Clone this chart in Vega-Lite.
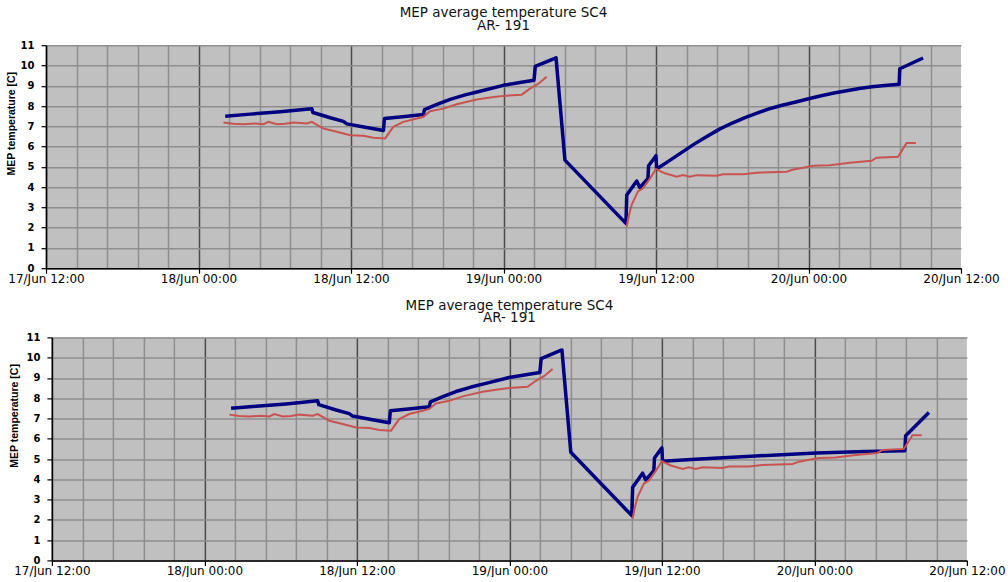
{
  "$schema": "https://vega.github.io/schema/vega-lite/v6.json",
  "background": "white",
  "padding": {"left": 4, "top": 6.2, "right": 0, "bottom": 0},
  "spacing": 14.2,
  "center": true,
  "config": {
    "font": "DejaVu Sans",
    "view": {"fill": "#c0c0c0", "stroke": null},
    "title": {
      "font": "DejaVu Sans", "fontSize": 13.5, "fontWeight": "normal", "color": "#111111",
      "lineHeight": 12.5, "anchor": "middle", "frame": "group", "offset": 7.8
    },
    "axis": {"gridWidth": 1.5, "domainWidth": 1.5, "domainColor": "#000000", "tickColor": "#000000", "tickWidth": 1.2}
  },
  "datasets": {
    "probe": [
      {"time": "2011-06-18T01:58", "temp": 7.19, "segment": 1},
      {"time": "2011-06-18T02:44", "temp": 7.12, "segment": 1},
      {"time": "2011-06-18T03:32", "temp": 7.10, "segment": 1},
      {"time": "2011-06-18T04:28", "temp": 7.14, "segment": 1},
      {"time": "2011-06-18T05:07", "temp": 7.10, "segment": 1},
      {"time": "2011-06-18T05:30", "temp": 7.22, "segment": 1},
      {"time": "2011-06-18T06:10", "temp": 7.10, "segment": 1},
      {"time": "2011-06-18T06:49", "temp": 7.12, "segment": 1},
      {"time": "2011-06-18T07:28", "temp": 7.19, "segment": 1},
      {"time": "2011-06-18T08:32", "temp": 7.14, "segment": 1},
      {"time": "2011-06-18T08:55", "temp": 7.22, "segment": 1},
      {"time": "2011-06-18T09:50", "temp": 6.89, "segment": 1},
      {"time": "2011-06-18T10:53", "temp": 6.73, "segment": 1},
      {"time": "2011-06-18T11:56", "temp": 6.56, "segment": 1},
      {"time": "2011-06-18T12:59", "temp": 6.53, "segment": 1},
      {"time": "2011-06-18T13:46", "temp": 6.43, "segment": 1},
      {"time": "2011-06-18T14:41", "temp": 6.40, "segment": 1},
      {"time": "2011-06-18T15:20", "temp": 6.97, "segment": 1},
      {"time": "2011-06-18T16:07", "temp": 7.22, "segment": 1},
      {"time": "2011-06-18T17:11", "temp": 7.38, "segment": 1},
      {"time": "2011-06-18T17:42", "temp": 7.47, "segment": 1},
      {"time": "2011-06-18T18:13", "temp": 7.74, "segment": 1},
      {"time": "2011-06-18T19:16", "temp": 7.87, "segment": 1},
      {"time": "2011-06-18T20:19", "temp": 8.09, "segment": 1},
      {"time": "2011-06-18T21:54", "temp": 8.32, "segment": 1},
      {"time": "2011-06-18T22:57", "temp": 8.42, "segment": 1},
      {"time": "2011-06-18T23:59", "temp": 8.50, "segment": 1},
      {"time": "2011-06-19T01:26", "temp": 8.56, "segment": 1},
      {"time": "2011-06-19T02:05", "temp": 8.86, "segment": 1},
      {"time": "2011-06-19T02:45", "temp": 9.10, "segment": 1},
      {"time": "2011-06-19T03:24", "temp": 9.44, "segment": 1},
      {"time": "2011-06-19T09:42", "temp": 2.05, "segment": 2},
      {"time": "2011-06-19T09:52", "temp": 2.60, "segment": 2},
      {"time": "2011-06-19T10:05", "temp": 3.12, "segment": 2},
      {"time": "2011-06-19T10:35", "temp": 3.79, "segment": 2},
      {"time": "2011-06-19T10:59", "temp": 3.94, "segment": 2},
      {"time": "2011-06-19T11:32", "temp": 4.43, "segment": 2},
      {"time": "2011-06-19T12:00", "temp": 4.89, "segment": 2},
      {"time": "2011-06-19T12:42", "temp": 4.68, "segment": 2},
      {"time": "2011-06-19T13:38", "temp": 4.51, "segment": 2},
      {"time": "2011-06-19T14:07", "temp": 4.59, "segment": 2},
      {"time": "2011-06-19T14:40", "temp": 4.51, "segment": 2},
      {"time": "2011-06-19T15:12", "temp": 4.59, "segment": 2},
      {"time": "2011-06-19T16:46", "temp": 4.56, "segment": 2},
      {"time": "2011-06-19T17:17", "temp": 4.63, "segment": 2},
      {"time": "2011-06-19T18:52", "temp": 4.63, "segment": 2},
      {"time": "2011-06-19T19:55", "temp": 4.71, "segment": 2},
      {"time": "2011-06-19T22:17", "temp": 4.76, "segment": 2},
      {"time": "2011-06-19T22:48", "temp": 4.87, "segment": 2},
      {"time": "2011-06-19T23:35", "temp": 4.96, "segment": 2},
      {"time": "2011-06-20T00:22", "temp": 5.05, "segment": 2},
      {"time": "2011-06-20T01:41", "temp": 5.08, "segment": 2},
      {"time": "2011-06-20T03:15", "temp": 5.20, "segment": 2},
      {"time": "2011-06-20T04:58", "temp": 5.30, "segment": 2},
      {"time": "2011-06-20T05:21", "temp": 5.45, "segment": 2},
      {"time": "2011-06-20T07:03", "temp": 5.50, "segment": 2},
      {"time": "2011-06-20T07:43", "temp": 6.17, "segment": 2},
      {"time": "2011-06-20T08:27", "temp": 6.17, "segment": 2}
    ],
    "modelA": [
      {"time": "2011-06-18T02:06", "temp": 7.50},
      {"time": "2011-06-18T04:04", "temp": 7.60},
      {"time": "2011-06-18T06:26", "temp": 7.72},
      {"time": "2011-06-18T08:55", "temp": 7.87},
      {"time": "2011-06-18T09:00", "temp": 7.68},
      {"time": "2011-06-18T10:22", "temp": 7.42},
      {"time": "2011-06-18T11:24", "temp": 7.24},
      {"time": "2011-06-18T11:40", "temp": 7.12},
      {"time": "2011-06-18T13:07", "temp": 6.95},
      {"time": "2011-06-18T14:33", "temp": 6.79},
      {"time": "2011-06-18T14:38", "temp": 7.38},
      {"time": "2011-06-18T16:15", "temp": 7.48},
      {"time": "2011-06-18T17:42", "temp": 7.58},
      {"time": "2011-06-18T17:47", "temp": 7.82},
      {"time": "2011-06-18T18:46", "temp": 8.08},
      {"time": "2011-06-18T19:48", "temp": 8.33},
      {"time": "2011-06-18T20:59", "temp": 8.55},
      {"time": "2011-06-18T22:09", "temp": 8.73},
      {"time": "2011-06-18T23:59", "temp": 9.02},
      {"time": "2011-06-19T01:18", "temp": 9.16},
      {"time": "2011-06-19T02:24", "temp": 9.27},
      {"time": "2011-06-19T02:30", "temp": 9.95},
      {"time": "2011-06-19T04:08", "temp": 10.38},
      {"time": "2011-06-19T04:50", "temp": 5.33},
      {"time": "2011-06-19T09:38", "temp": 2.21},
      {"time": "2011-06-19T09:42", "temp": 3.61},
      {"time": "2011-06-19T10:29", "temp": 4.30},
      {"time": "2011-06-19T10:44", "temp": 3.97},
      {"time": "2011-06-19T11:22", "temp": 4.43},
      {"time": "2011-06-19T11:25", "temp": 5.05},
      {"time": "2011-06-19T12:00", "temp": 5.55},
      {"time": "2011-06-19T12:03", "temp": 4.89},
      {"time": "2011-06-19T13:00", "temp": 5.28},
      {"time": "2011-06-19T14:00", "temp": 5.70},
      {"time": "2011-06-19T15:00", "temp": 6.12},
      {"time": "2011-06-19T16:00", "temp": 6.50},
      {"time": "2011-06-19T17:00", "temp": 6.86},
      {"time": "2011-06-19T18:00", "temp": 7.16},
      {"time": "2011-06-19T19:00", "temp": 7.43},
      {"time": "2011-06-19T20:00", "temp": 7.66},
      {"time": "2011-06-19T21:00", "temp": 7.88},
      {"time": "2011-06-19T22:00", "temp": 8.05},
      {"time": "2011-06-19T23:00", "temp": 8.20},
      {"time": "2011-06-20T00:00", "temp": 8.36},
      {"time": "2011-06-20T01:00", "temp": 8.51},
      {"time": "2011-06-20T02:00", "temp": 8.64},
      {"time": "2011-06-20T03:00", "temp": 8.75},
      {"time": "2011-06-20T04:00", "temp": 8.86},
      {"time": "2011-06-20T05:00", "temp": 8.95},
      {"time": "2011-06-20T06:00", "temp": 9.01},
      {"time": "2011-06-20T07:08", "temp": 9.07},
      {"time": "2011-06-20T07:11", "temp": 9.84},
      {"time": "2011-06-20T09:01", "temp": 10.37}
    ],
    "modelB": [
      {"time": "2011-06-18T02:06", "temp": 7.50},
      {"time": "2011-06-18T04:04", "temp": 7.60},
      {"time": "2011-06-18T06:26", "temp": 7.72},
      {"time": "2011-06-18T08:55", "temp": 7.87},
      {"time": "2011-06-18T09:00", "temp": 7.68},
      {"time": "2011-06-18T10:22", "temp": 7.42},
      {"time": "2011-06-18T11:24", "temp": 7.24},
      {"time": "2011-06-18T11:40", "temp": 7.12},
      {"time": "2011-06-18T13:07", "temp": 6.95},
      {"time": "2011-06-18T14:33", "temp": 6.79},
      {"time": "2011-06-18T14:38", "temp": 7.38},
      {"time": "2011-06-18T16:15", "temp": 7.48},
      {"time": "2011-06-18T17:42", "temp": 7.58},
      {"time": "2011-06-18T17:47", "temp": 7.82},
      {"time": "2011-06-18T18:46", "temp": 8.08},
      {"time": "2011-06-18T19:48", "temp": 8.33},
      {"time": "2011-06-18T20:59", "temp": 8.55},
      {"time": "2011-06-18T22:09", "temp": 8.73},
      {"time": "2011-06-18T23:59", "temp": 9.02},
      {"time": "2011-06-19T01:18", "temp": 9.16},
      {"time": "2011-06-19T02:24", "temp": 9.27},
      {"time": "2011-06-19T02:30", "temp": 9.95},
      {"time": "2011-06-19T04:08", "temp": 10.38},
      {"time": "2011-06-19T04:50", "temp": 5.33},
      {"time": "2011-06-19T09:38", "temp": 2.21},
      {"time": "2011-06-19T09:42", "temp": 3.61},
      {"time": "2011-06-19T10:29", "temp": 4.30},
      {"time": "2011-06-19T10:44", "temp": 3.97},
      {"time": "2011-06-19T11:22", "temp": 4.43},
      {"time": "2011-06-19T11:25", "temp": 5.05},
      {"time": "2011-06-19T12:00", "temp": 5.55},
      {"time": "2011-06-19T12:03", "temp": 4.89},
      {"time": "2011-06-19T14:59", "temp": 5.00},
      {"time": "2011-06-19T19:24", "temp": 5.15},
      {"time": "2011-06-20T00:10", "temp": 5.30},
      {"time": "2011-06-20T04:02", "temp": 5.37},
      {"time": "2011-06-20T07:07", "temp": 5.41},
      {"time": "2011-06-20T07:11", "temp": 6.15},
      {"time": "2011-06-20T09:01", "temp": 7.30}
    ]
  },
  "vconcat": [
    {
      "title": {"text": ["MEP average temperature SC4", "AR- 191"]},
      "width": 915,
      "height": 223,
      "encoding": {
        "x": {
          "field": "time", "type": "temporal",
          "scale": {"domain": [{"year": 2011, "month": 6, "date": 17, "hours": 12}, {"year": 2011, "month": 6, "date": 20, "hours": 12}]},
          "axis": {
            "title": null,
            "values": [
              {"year": 2011, "month": 6, "date": 17, "hours": 12, "minutes": 0},
              {"year": 2011, "month": 6, "date": 17, "hours": 14, "minutes": 24},
              {"year": 2011, "month": 6, "date": 17, "hours": 16, "minutes": 48},
              {"year": 2011, "month": 6, "date": 17, "hours": 19, "minutes": 12},
              {"year": 2011, "month": 6, "date": 17, "hours": 21, "minutes": 36},
              {"year": 2011, "month": 6, "date": 18, "hours": 0, "minutes": 0},
              {"year": 2011, "month": 6, "date": 18, "hours": 2, "minutes": 24},
              {"year": 2011, "month": 6, "date": 18, "hours": 4, "minutes": 48},
              {"year": 2011, "month": 6, "date": 18, "hours": 7, "minutes": 12},
              {"year": 2011, "month": 6, "date": 18, "hours": 9, "minutes": 36},
              {"year": 2011, "month": 6, "date": 18, "hours": 12, "minutes": 0},
              {"year": 2011, "month": 6, "date": 18, "hours": 14, "minutes": 24},
              {"year": 2011, "month": 6, "date": 18, "hours": 16, "minutes": 48},
              {"year": 2011, "month": 6, "date": 18, "hours": 19, "minutes": 12},
              {"year": 2011, "month": 6, "date": 18, "hours": 21, "minutes": 36},
              {"year": 2011, "month": 6, "date": 19, "hours": 0, "minutes": 0},
              {"year": 2011, "month": 6, "date": 19, "hours": 2, "minutes": 24},
              {"year": 2011, "month": 6, "date": 19, "hours": 4, "minutes": 48},
              {"year": 2011, "month": 6, "date": 19, "hours": 7, "minutes": 12},
              {"year": 2011, "month": 6, "date": 19, "hours": 9, "minutes": 36},
              {"year": 2011, "month": 6, "date": 19, "hours": 12, "minutes": 0},
              {"year": 2011, "month": 6, "date": 19, "hours": 14, "minutes": 24},
              {"year": 2011, "month": 6, "date": 19, "hours": 16, "minutes": 48},
              {"year": 2011, "month": 6, "date": 19, "hours": 19, "minutes": 12},
              {"year": 2011, "month": 6, "date": 19, "hours": 21, "minutes": 36},
              {"year": 2011, "month": 6, "date": 20, "hours": 0, "minutes": 0},
              {"year": 2011, "month": 6, "date": 20, "hours": 2, "minutes": 24},
              {"year": 2011, "month": 6, "date": 20, "hours": 4, "minutes": 48},
              {"year": 2011, "month": 6, "date": 20, "hours": 7, "minutes": 12},
              {"year": 2011, "month": 6, "date": 20, "hours": 9, "minutes": 36},
              {"year": 2011, "month": 6, "date": 20, "hours": 12, "minutes": 0}
            ],
            "labelExpr": "(hours(datum.value) % 12 === 0 && minutes(datum.value) === 0) ? timeFormat(datum.value, '%d/%b %H:%M') : ''",
            "labelFont": "DejaVu Sans", "labelFontSize": 12, "labelColor": "#000000",
            "labelFlush": false, "labelOverlap": false, "labelPadding": 0,
            "tickSize": 5,
            "tickOpacity": {"condition": {"test": "hours(datum.value) % 12 === 0 && minutes(datum.value) === 0", "value": 1}, "value": 0},
            "grid": true,
            "gridColor": {"condition": {"test": "hours(datum.value) % 12 === 0 && minutes(datum.value) === 0", "value": "#4a4a4a"}, "value": "#8e8e8e"},
            "gridOpacity": {"condition": {"test": "datum.value > datetime(2011, 5, 20, 11)", "value": 0}, "value": 1}
          }
        }
      },
      "layer": [
        {
          "data": {"name": "modelA"},
          "mark": {"type": "line", "color": "#000080", "strokeWidth": 3.5, "strokeJoin": "round"},
          "encoding": {
            "y": {
              "field": "temp", "type": "quantitative",
              "scale": {"domain": [0, 11], "nice": false},
              "axis": {
                "title": "MEP temperature [C]",
                "values": [0, 1, 2, 3, 4, 5, 6, 7, 8, 9, 10, 11],
                "labelFont": "DejaVu Sans", "labelFontWeight": "bold", "labelFontSize": 10, "labelColor": "#000000",
                "labelPadding": 7, "tickSize": 5,
                "grid": true, "gridColor": "#8e8e8e",
                "titleFont": "Liberation Sans", "titleFontWeight": "bold", "titleFontSize": 10.5, "titleColor": "#000000",
                "titleX": -29.5, "titleY": 78, "minExtent": 42, "maxExtent": 42
              }
            }
          }
        },
        {
          "data": {"name": "probe"},
          "mark": {"type": "line", "color": "#c85350", "strokeWidth": 2},
          "encoding": {
            "y": {
              "field": "temp", "type": "quantitative",
              "scale": {"domain": [0, 11], "nice": false},
              "axis": {"orient": "right", "title": null, "labels": false, "ticks": false, "domain": false, "grid": false, "minExtent": 50, "maxExtent": 50}
            },
            "detail": {"field": "segment", "type": "nominal"}
          }
        }
      ],
      "resolve": {"axis": {"y": "independent"}}
    },
    {
      "title": {"text": ["MEP average temperature SC4", "AR- 191"]},
      "width": 915,
      "height": 223,
      "encoding": {
        "x": {
          "field": "time", "type": "temporal",
          "scale": {"domain": [{"year": 2011, "month": 6, "date": 17, "hours": 12}, {"year": 2011, "month": 6, "date": 20, "hours": 12}]},
          "axis": {
            "title": null,
            "values": [
              {"year": 2011, "month": 6, "date": 17, "hours": 12, "minutes": 0},
              {"year": 2011, "month": 6, "date": 17, "hours": 14, "minutes": 24},
              {"year": 2011, "month": 6, "date": 17, "hours": 16, "minutes": 48},
              {"year": 2011, "month": 6, "date": 17, "hours": 19, "minutes": 12},
              {"year": 2011, "month": 6, "date": 17, "hours": 21, "minutes": 36},
              {"year": 2011, "month": 6, "date": 18, "hours": 0, "minutes": 0},
              {"year": 2011, "month": 6, "date": 18, "hours": 2, "minutes": 24},
              {"year": 2011, "month": 6, "date": 18, "hours": 4, "minutes": 48},
              {"year": 2011, "month": 6, "date": 18, "hours": 7, "minutes": 12},
              {"year": 2011, "month": 6, "date": 18, "hours": 9, "minutes": 36},
              {"year": 2011, "month": 6, "date": 18, "hours": 12, "minutes": 0},
              {"year": 2011, "month": 6, "date": 18, "hours": 14, "minutes": 24},
              {"year": 2011, "month": 6, "date": 18, "hours": 16, "minutes": 48},
              {"year": 2011, "month": 6, "date": 18, "hours": 19, "minutes": 12},
              {"year": 2011, "month": 6, "date": 18, "hours": 21, "minutes": 36},
              {"year": 2011, "month": 6, "date": 19, "hours": 0, "minutes": 0},
              {"year": 2011, "month": 6, "date": 19, "hours": 2, "minutes": 24},
              {"year": 2011, "month": 6, "date": 19, "hours": 4, "minutes": 48},
              {"year": 2011, "month": 6, "date": 19, "hours": 7, "minutes": 12},
              {"year": 2011, "month": 6, "date": 19, "hours": 9, "minutes": 36},
              {"year": 2011, "month": 6, "date": 19, "hours": 12, "minutes": 0},
              {"year": 2011, "month": 6, "date": 19, "hours": 14, "minutes": 24},
              {"year": 2011, "month": 6, "date": 19, "hours": 16, "minutes": 48},
              {"year": 2011, "month": 6, "date": 19, "hours": 19, "minutes": 12},
              {"year": 2011, "month": 6, "date": 19, "hours": 21, "minutes": 36},
              {"year": 2011, "month": 6, "date": 20, "hours": 0, "minutes": 0},
              {"year": 2011, "month": 6, "date": 20, "hours": 2, "minutes": 24},
              {"year": 2011, "month": 6, "date": 20, "hours": 4, "minutes": 48},
              {"year": 2011, "month": 6, "date": 20, "hours": 7, "minutes": 12},
              {"year": 2011, "month": 6, "date": 20, "hours": 9, "minutes": 36},
              {"year": 2011, "month": 6, "date": 20, "hours": 12, "minutes": 0}
            ],
            "labelExpr": "(hours(datum.value) % 12 === 0 && minutes(datum.value) === 0) ? timeFormat(datum.value, '%d/%b %H:%M') : ''",
            "labelFont": "DejaVu Sans", "labelFontSize": 12, "labelColor": "#000000",
            "labelFlush": false, "labelOverlap": false, "labelPadding": 0,
            "tickSize": 5,
            "tickOpacity": {"condition": {"test": "hours(datum.value) % 12 === 0 && minutes(datum.value) === 0", "value": 1}, "value": 0},
            "grid": true,
            "gridColor": {"condition": {"test": "hours(datum.value) % 12 === 0 && minutes(datum.value) === 0", "value": "#4a4a4a"}, "value": "#8e8e8e"},
            "gridOpacity": {"condition": {"test": "datum.value > datetime(2011, 5, 20, 11)", "value": 0}, "value": 1}
          }
        },
        "y": {
          "field": "temp", "type": "quantitative",
          "scale": {"domain": [0, 11], "nice": false},
          "axis": {
            "title": "MEP temperature [C]",
            "values": [0, 1, 2, 3, 4, 5, 6, 7, 8, 9, 10, 11],
            "labelFont": "DejaVu Sans", "labelFontWeight": "bold", "labelFontSize": 10, "labelColor": "#000000",
            "labelPadding": 7, "tickSize": 5,
            "grid": true, "gridColor": "#8e8e8e",
            "titleFont": "Liberation Sans", "titleFontWeight": "bold", "titleFontSize": 10.5, "titleColor": "#000000",
            "titleX": -32, "titleY": 78, "minExtent": 42, "maxExtent": 42
          }
        }
      },
      "layer": [
        {"data": {"name": "modelB"}, "mark": {"type": "line", "color": "#000080", "strokeWidth": 3.5, "strokeJoin": "round"}},
        {"data": {"name": "probe"}, "mark": {"type": "line", "color": "#c85350", "strokeWidth": 2}, "encoding": {"detail": {"field": "segment", "type": "nominal"}}}
      ]
    }
  ]
}
